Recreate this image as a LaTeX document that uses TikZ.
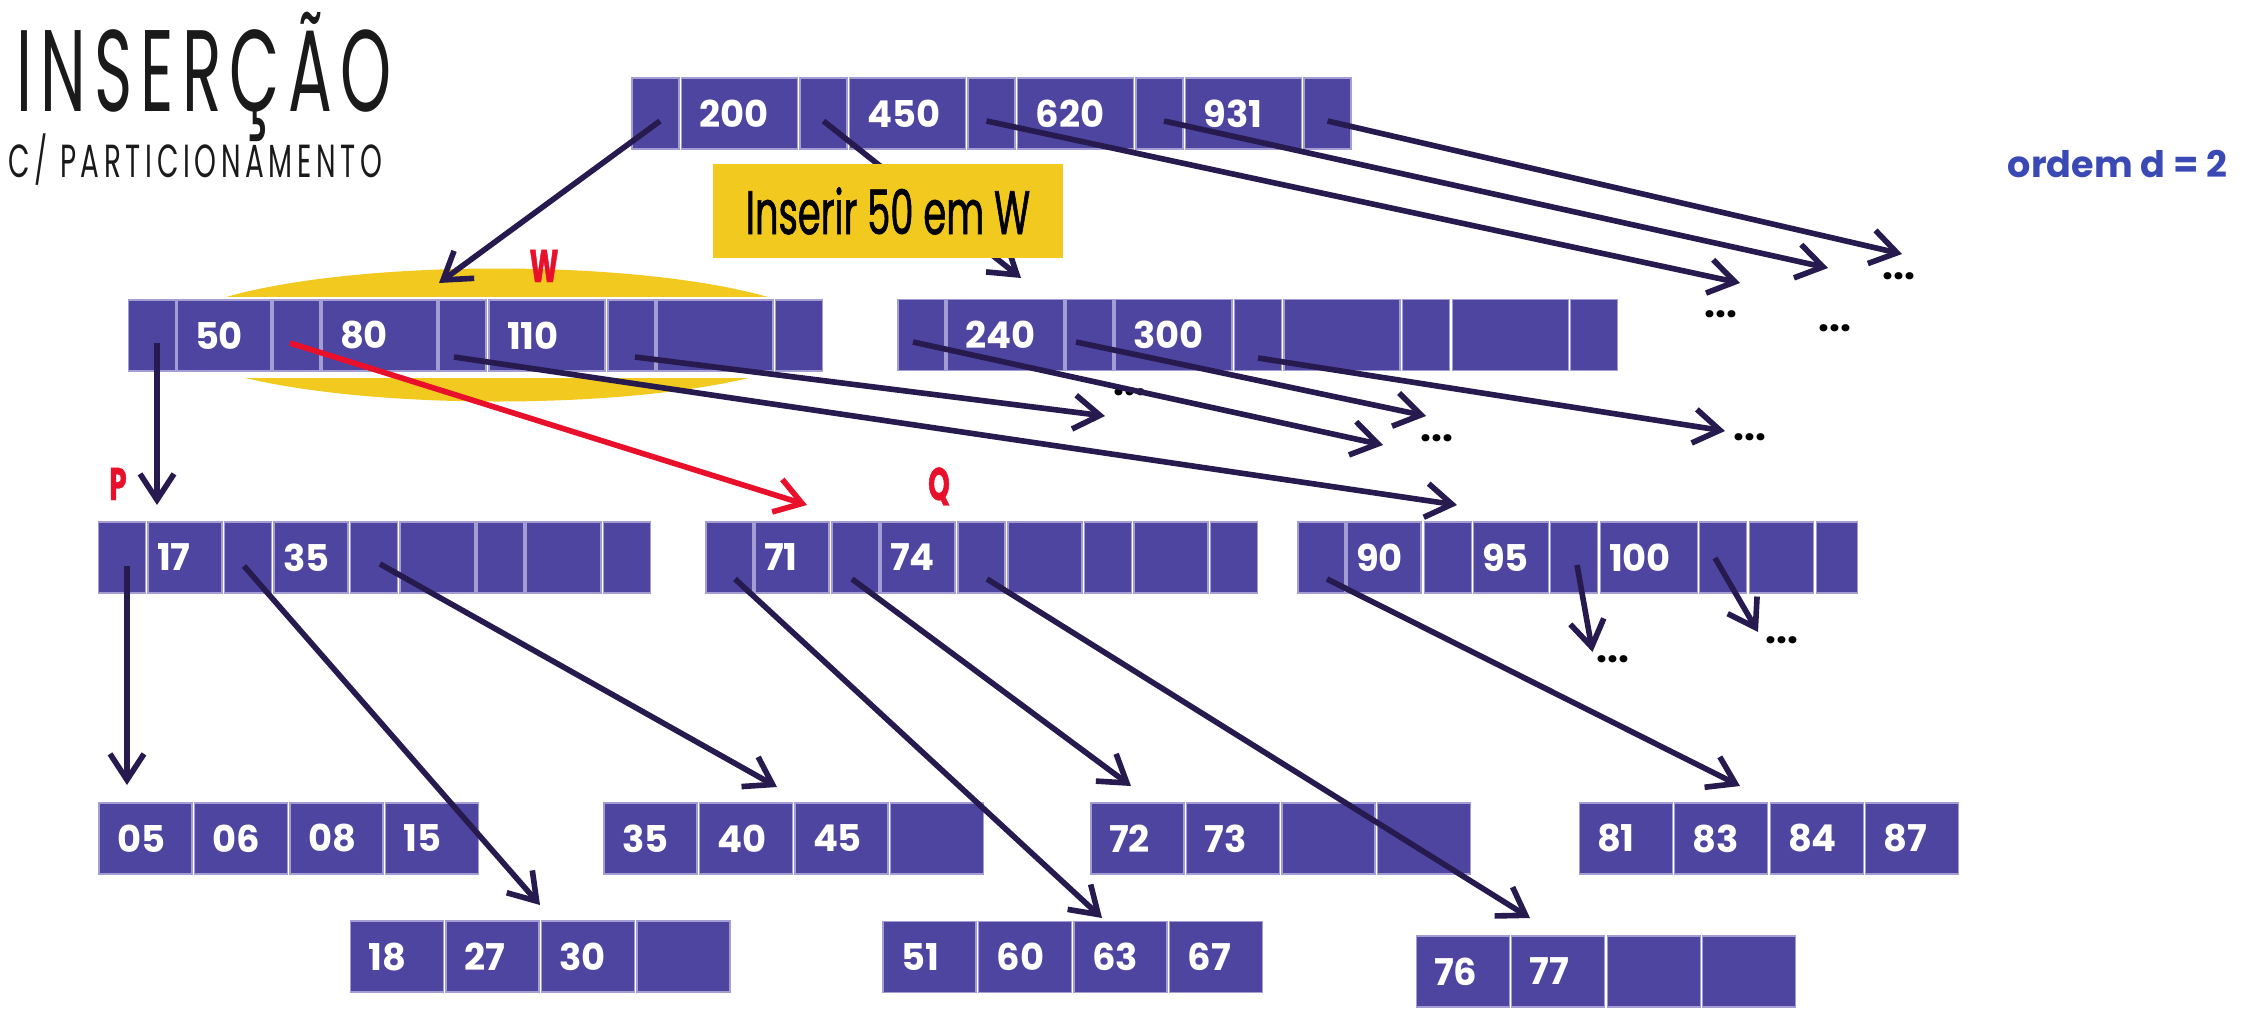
\documentclass[tikz,border=0pt]{standalone}
\usepackage{fontspec}
\setmainfont{Poppins}
\newfontfamily\titlefont[FakeStretch=0.56,LetterSpace=7]{Poppins}
\newfontfamily\subtitlefont[FakeStretch=0.6,LetterSpace=10]{Poppins}
\newfontfamily\labelfont[FakeStretch=0.6,FakeBold=1]{Poppins}
\usetikzlibrary{arrows.meta}
\definecolor{cellfill}{HTML}{4E45A0}
\definecolor{celledge}{HTML}{A39DD3}
\definecolor{linkink}{HTML}{261A4F}
\definecolor{markred}{HTML}{E8102A}
\definecolor{boxyellow}{HTML}{F2C91E}
\definecolor{ordblue}{HTML}{3B49B5}
\definecolor{titleink}{HTML}{1A1A1A}
\begin{document}
\begin{tikzpicture}[x=1cm,y=1cm,
  cell/.style={fill=cellfill,draw=celledge,line width=0.3pt,minimum height=0.71cm,inner ysep=0pt,text=white,font=\bfseries\fontsize{10.5}{12}\selectfont},
  ptrcell/.style={cell,minimum width=0.47cm,inner xsep=0pt},
  keycell/.style={cell,text width=#1,align=left,inner xsep=0.18cm},
  narrowkey/.style={cell,text width=#1,align=left,inner xsep=0.09cm},
  leaf/.style={keycell=0.57cm},
  link/.style={draw=linkink,line width=1.6pt,-{Straight Barb[length=2.6mm,width=3.4mm]}},
  redlink/.style={link,draw=markred},
  dotsnode/.style={font=\bfseries\fontsize{11}{12}\selectfont,inner sep=0pt},
  redtag/.style={text=markred,font=\labelfont\bfseries\fontsize{13}{14}\selectfont,inner sep=0pt,anchor=base}]
\useasboundingbox (0,0) rectangle (22.44,-10.22);

\node[anchor=base west,inner sep=0pt,text=titleink,font=\titlefont\fontsize{33}{36}\selectfont] (title) at (0.16,-1.12) {INSERÇÃO};
\node[anchor=base west,inner sep=0pt,text=titleink,font=\subtitlefont\fontsize{13.2}{15}\selectfont] (subtitle) at (0.08,-1.78) {C/ PARTICIONAMENTO};
\node[anchor=base west,inner sep=0pt,text=ordblue,font=\bfseries\fontsize{10.4}{12}\selectfont] (order) at (20.07,-1.77) {ordem d = 2};

\fill[boxyellow] (4.97,-3.35) ellipse [x radius=3.3,y radius=0.665];
\fill[white] (1.25,-2.97) rectangle (8.30,-3.78);

\node[ptrcell] (r0) at (6.555,-1.135) {};
\node[keycell=0.80cm] (r1) at (7.395,-1.135) {200};
\node[ptrcell] (r2) at (8.235,-1.135) {};
\node[keycell=0.80cm] (r3) at (9.075,-1.135) {450};
\node[ptrcell] (r4) at (9.915,-1.135) {};
\node[keycell=0.80cm] (r5) at (10.755,-1.135) {620};
\node[ptrcell] (r6) at (11.595,-1.135) {};
\node[keycell=0.80cm] (r7) at (12.435,-1.135) {931};
\node[ptrcell] (r8) at (13.275,-1.135) {};

\node[ptrcell] (w0) at (1.52,-3.355) {};
\node[keycell=0.58cm] (w1) at (2.24,-3.355) {50};
\node[ptrcell] (w2) at (2.965,-3.355) {};
\node[keycell=0.79cm] (w3) at (3.795,-3.355) {80};
\node[ptrcell] (w4) at (4.625,-3.355) {};
\node[keycell=0.80cm] (w5) at (5.47,-3.355) {110};
\node[ptrcell] (w6) at (6.315,-3.355) {};
\node[keycell=0.80cm] (w7) at (7.15,-3.355) {};
\node[ptrcell] (w8) at (7.9875,-3.355) {};

\node[ptrcell] (s0) at (9.215,-3.35) {};
\node[keycell=0.81cm] (s1) at (10.055,-3.35) {240};
\node[ptrcell] (s2) at (10.895,-3.35) {};
\node[keycell=0.81cm] (s3) at (11.735,-3.35) {300};
\node[ptrcell] (s4) at (12.58,-3.35) {};
\node[keycell=0.80cm] (s5) at (13.42,-3.35) {};
\node[ptrcell] (s6) at (14.26,-3.35) {};
\node[keycell=0.80cm] (s7) at (15.10,-3.35) {};
\node[ptrcell] (s8) at (15.94,-3.35) {};

\node[ptrcell] (p0) at (1.22,-5.575) {};
\node[narrowkey=0.56cm] (p1) at (1.85,-5.575) {17};
\node[ptrcell] (p2) at (2.48,-5.575) {};
\node[narrowkey=0.56cm] (p3) at (3.11,-5.575) {35};
\node[ptrcell] (p4) at (3.74,-5.575) {};
\node[narrowkey=0.57cm] (p5) at (4.375,-5.575) {};
\node[ptrcell] (p6) at (5.005,-5.575) {};
\node[narrowkey=0.57cm] (p7) at (5.635,-5.575) {};
\node[ptrcell] (p8) at (6.2675,-5.575) {};

\node[ptrcell] (q0) at (7.295,-5.575) {};
\node[narrowkey=0.56cm] (q1) at (7.92,-5.575) {71};
\node[ptrcell] (q2) at (8.555,-5.575) {};
\node[narrowkey=0.56cm] (q3) at (9.18,-5.575) {74};
\node[ptrcell] (q4) at (9.815,-5.575) {};
\node[narrowkey=0.56cm] (q5) at (10.45,-5.575) {};
\node[ptrcell] (q6) at (11.08,-5.575) {};
\node[narrowkey=0.56cm] (q7) at (11.71,-5.575) {};
\node[ptrcell] (q8) at (12.34,-5.575) {};

\node[ptrcell] (t0) at (13.215,-5.575) {};
\node[narrowkey=0.56cm] (t1) at (13.84,-5.575) {90};
\node[ptrcell] (t2) at (14.475,-5.575) {};
\node[narrowkey=0.57cm] (t3) at (15.105,-5.575) {95};
\node[ptrcell] (t4) at (15.735,-5.575) {};
\node[narrowkey=0.79cm] (t5) at (16.485,-5.575) {100};
\node[ptrcell] (t6) at (17.23,-5.575) {};
\node[narrowkey=0.46cm] (t7) at (17.81,-5.575) {};
\node[ptrcell,minimum width=0.41cm] (t8) at (18.365,-5.575) {};

\node[leaf] (a1) at (1.455,-8.385) {05};
\node[leaf] (a2) at (2.41,-8.385) {06};
\node[leaf] (a3) at (3.365,-8.385) {08};
\node[leaf] (a4) at (4.32,-8.385) {15};

\node[leaf] (b1) at (6.505,-8.385) {35};
\node[leaf] (b2) at (7.46,-8.385) {40};
\node[leaf] (b3) at (8.415,-8.385) {45};
\node[leaf] (b4) at (9.37,-8.385) {};

\node[leaf] (c1) at (3.97,-9.565) {18};
\node[leaf] (c2) at (4.925,-9.565) {27};
\node[leaf] (c3) at (5.88,-9.565) {30};
\node[leaf] (c4) at (6.835,-9.565) {};

\node[leaf] (d1) at (9.295,-9.57) {51};
\node[leaf] (d2) at (10.25,-9.57) {60};
\node[leaf] (d3) at (11.205,-9.57) {63};
\node[leaf] (d4) at (12.16,-9.57) {67};

\node[leaf] (e1) at (11.375,-8.385) {72};
\node[leaf] (e2) at (12.33,-8.385) {73};
\node[leaf] (e3) at (13.285,-8.385) {};
\node[leaf] (e4) at (14.24,-8.385) {};

\node[leaf] (f1) at (16.255,-8.385) {81};
\node[leaf] (f2) at (17.21,-8.385) {83};
\node[leaf] (f3) at (18.165,-8.385) {84};
\node[leaf] (f4) at (19.12,-8.385) {87};

\node[leaf] (g1) at (14.625,-9.715) {76};
\node[leaf] (g2) at (15.58,-9.715) {77};
\node[leaf] (g3) at (16.535,-9.715) {};
\node[leaf] (g4) at (17.49,-9.715) {};

\node[dotsnode] (more1) at (18.99,-2.76) {...};
\node[dotsnode] (more2) at (17.21,-3.14) {...};
\node[dotsnode] (more3) at (18.35,-3.28) {...};
\node[dotsnode] (more4) at (11.30,-3.92) {...};
\node[dotsnode] (more5) at (14.37,-4.38) {...};
\node[dotsnode] (more6) at (17.50,-4.37) {...};
\node[dotsnode] (more7) at (16.13,-6.59) {...};
\node[dotsnode] (more8) at (17.82,-6.40) {...};

\coordinate (r0to) at (4.39,-2.83);
\coordinate (r2to) at (10.21,-2.78);
\coordinate (r4to) at (17.40,-2.83);
\coordinate (r6to) at (18.28,-2.68);
\coordinate (r8to) at (19.02,-2.54);
\coordinate (w0to) at (1.57,-5.05);
\coordinate (w2to) at (8.07,-5.05);
\coordinate (w4to) at (14.57,-5.05);
\coordinate (w6to) at (11.05,-4.16);
\coordinate (s0to) at (13.83,-4.45);
\coordinate (s2to) at (14.26,-4.16);
\coordinate (s4to) at (17.25,-4.31);
\coordinate (p0to) at (1.27,-7.85);
\coordinate (p2to) at (5.40,-9.05);
\coordinate (p4to) at (7.77,-7.87);
\coordinate (q0to) at (11.02,-9.18);
\coordinate (q2to) at (11.31,-7.86);
\coordinate (q4to) at (15.30,-9.18);
\coordinate (t0to) at (17.40,-7.86);
\coordinate (t4to) at (15.925,-6.52);
\coordinate (t6to) at (17.58,-6.32);

\draw[link] ([shift={(0.045,-0.075)}]r0.center) -- (r0to);
\draw[link] ([shift={(0,-0.075)}]r2.center) -- (r2to);
\draw[link] ([shift={(-0.05,-0.075)}]r4.center) -- (r4to);
\draw[link] ([shift={(0.045,-0.075)}]r6.center) -- (r6to);
\draw[link] ([shift={(0,-0.075)}]r8.center) -- (r8to);
\draw[link] ([shift={(0.05,-0.075)}]w0.center) -- (w0to);
\draw[redlink] ([shift={(-0.065,-0.075)}]w2.center) -- (w2to);
\draw[link] ([shift={(-0.085,-0.215)}]w4.center) -- (w4to);
\draw[link] ([shift={(0.035,-0.215)}]w6.center) -- (w6to);
\draw[link] ([shift={(-0.085,-0.07)}]s0.center) -- (s0to);
\draw[link] ([shift={(-0.135,-0.07)}]s2.center) -- (s2to);
\draw[link] ([shift={(0,-0.23)}]s4.center) -- (s4to);
\draw[link] ([shift={(0.05,-0.085)}]p0.center) -- (p0to);
\draw[link] ([shift={(-0.04,-0.085)}]p2.center) -- (p2to);
\draw[link] ([shift={(0.06,-0.065)}]p4.center) -- (p4to);
\draw[link] ([shift={(0.055,-0.215)}]q0.center) -- (q0to);
\draw[link] ([shift={(-0.035,-0.215)}]q2.center) -- (q2to);
\draw[link] ([shift={(0.055,-0.215)}]q4.center) -- (q4to);
\draw[link] ([shift={(0.055,-0.215)}]t0.center) -- (t0to);
\draw[link] ([shift={(0.035,-0.075)}]t4.center) -- (t4to);
\draw[link] ([shift={(-0.08,-0.005)}]t6.center) -- (t6to);

\node[fill=boxyellow,minimum width=3.5cm,minimum height=0.94cm,inner sep=0pt,text=black,font=\labelfont\fontsize{17.5}{19}\selectfont] (task) at (8.88,-2.11) {Inserir 50 em W};

\node[redtag] (wtag) at (5.44,-2.82) {W};
\node[redtag] (ptag) at (1.18,-5.00) {P};
\node[redtag] (qtag) at (9.39,-5.00) {Q};
\end{tikzpicture}
\end{document}
